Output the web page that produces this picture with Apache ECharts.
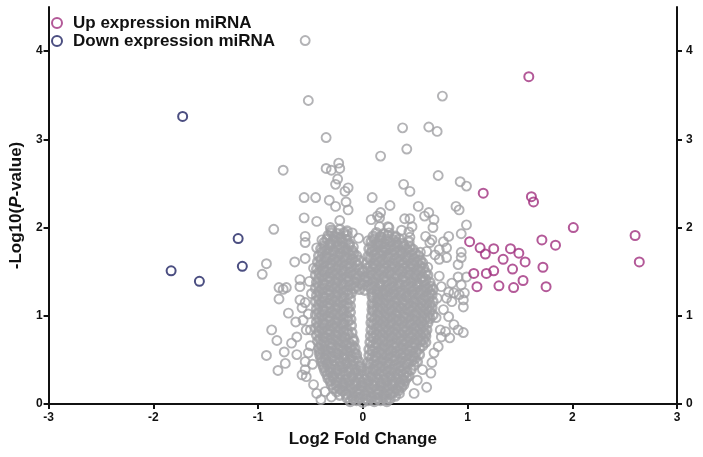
<!DOCTYPE html>
<html>
<head>
<meta charset="utf-8">
<script src="https://cdn.jsdelivr.net/npm/echarts@6/dist/echarts.min.js"></script>
<style>
html,body{margin:0;padding:0;background:#fff;}
#chart{width:703px;height:457px;}
</style>
</head>
<body>
<div id="chart"></div>
<script>
var xTicks = [-3, -2, -1, 0, 1, 2, 3];
var yTicks = [0, 1, 2, 3, 4];

var upPoints = [
  [1.585,3.71],[1.15,2.39],[1.61,2.35],[1.63,2.29],[2.01,2.00],[2.60,1.91],[2.64,1.61],
  [1.02,1.84],[1.12,1.77],[1.17,1.70],[1.25,1.76],[1.41,1.76],[1.49,1.71],[1.34,1.64],
  [1.55,1.61],[1.71,1.86],[1.84,1.80],[1.06,1.48],[1.18,1.48],[1.25,1.51],[1.43,1.53],
  [1.72,1.55],[1.09,1.33],[1.30,1.34],[1.44,1.32],[1.53,1.40],[1.75,1.33]
];

var downPoints = [
  [-1.72,3.26],[-1.19,1.875],[-1.15,1.56],[-1.83,1.51],[-1.56,1.39]
];

var greyOutliers = [
  [-0.55,4.12],[-0.52,3.44],[-0.35,3.02],[-0.76,2.65],
  [-0.35,2.67],[-0.23,2.73],[-0.22,2.67],[-0.30,2.65],[-0.24,2.55],[-0.26,2.49],
  [-0.56,2.34],[-0.45,2.34],[-0.32,2.31],[-0.26,2.24],[-0.17,2.41],[-0.14,2.45],[-0.14,2.20],
  [-0.56,2.11],[-0.44,2.07],[-0.22,2.08],[-0.31,2.00],[-0.85,1.98],[-0.16,2.29],[-0.10,1.94],
  [-0.55,1.90],[-0.55,1.83],[-0.44,1.77],[-0.39,1.86],[0.08,2.09],
  [-0.92,1.59],[-0.96,1.47],[-0.65,1.61],[-0.55,1.65],[-0.80,1.32],[-0.73,1.32],[-0.76,1.30],
  [-0.80,1.19],[-0.60,1.41],[-0.60,1.33],[-0.51,1.39],[-0.60,1.18],[-0.55,1.15],[-0.71,1.03],
  [-0.64,0.93],[-0.57,0.95],[-0.87,0.84],[-0.82,0.72],[-0.75,0.59],[-0.92,0.55],[-0.81,0.38],
  [-0.74,0.46],[-0.68,0.69],[-0.63,0.76],[-0.63,0.56],[-0.55,0.48],[-0.55,0.39],[-0.54,0.31],
  [-0.44,0.12],[-0.36,0.14],[-0.30,0.08],[-0.58,1.09],[-0.54,0.84],[-0.50,0.84],[-0.58,0.33],
  [-0.47,1.54],[-0.49,1.25],[-0.52,1.02],[-0.50,0.66],[-0.48,0.45],[-0.52,0.58],[-0.47,0.22],
  [-0.40,0.05],
  [0.76,3.49],[0.38,3.13],[0.63,3.14],[0.71,3.09],[0.42,2.89],[0.17,2.81],[0.72,2.59],
  [0.39,2.49],[0.45,2.41],[0.93,2.52],[0.99,2.47],[0.09,2.34],[0.26,2.25],[0.17,2.17],
  [0.53,2.24],[0.63,2.17],[0.59,2.13],[0.89,2.24],[0.92,2.20],[0.16,2.11],[0.40,2.10],
  [0.45,2.10],[0.68,2.09],[0.99,2.03],[0.25,2.00],[0.67,2.00],[0.14,2.13],[0.16,2.01],
  [0.24,2.01],[0.44,1.95],[0.47,2.01],
  [0.60,1.90],[0.66,1.86],[0.82,1.90],[0.77,1.84],[0.80,1.77],[0.73,1.75],[0.94,1.72],
  [0.94,1.66],[0.91,1.58],[0.80,1.66],[0.73,1.64],[0.69,1.69],[0.61,1.73],[0.64,1.83],
  [0.55,1.72],[0.45,1.89],[0.94,1.93],[0.99,1.44],[0.91,1.44],[0.94,1.35],[0.87,1.26],
  [0.92,1.24],[0.96,1.18],[0.85,1.16],[0.80,1.20],[0.77,1.07],[0.82,0.99],[0.87,0.90],
  [0.79,0.82],[0.83,0.75],[0.75,0.76],[0.72,0.65],[0.68,0.58],[0.66,0.47],[0.65,0.35],
  [0.61,0.19],[0.52,0.27],[0.57,0.39],[0.75,1.33],[0.82,1.27],[0.85,1.37],[0.97,1.26],
  [0.96,0.81],[0.91,0.84],[0.96,1.10],[0.74,0.84],[0.71,1.20],[0.73,1.45],[0.70,0.98],
  [0.35,0.12],[0.22,0.05],[0.49,0.12],[0.60,0.80],[0.62,1.55],
  [-0.09,1.78],[0.17,1.90],[0.25,1.94],[0.31,1.89],[0.17,1.81],[0.09,1.73],[0.22,1.75],
  [0.37,1.97],[0.05,1.85],[-0.04,1.88]
];

var greyCoreA = [
  [-0.12,0.03],[-0.06,0.04],[0.00,0.02],[0.05,0.04],[0.11,0.03],[0.17,0.04],[0.23,0.03],
  [-0.22,0.10],[-0.16,0.11],[-0.10,0.09],[-0.04,0.11],[0.02,0.10],[0.08,0.09],[0.14,0.11],[0.20,0.10],[0.26,0.11],[0.31,0.09],
  [-0.28,0.18],[-0.22,0.17],[-0.16,0.19],[-0.10,0.18],[-0.04,0.17],[0.02,0.19],[0.08,0.18],[0.14,0.17],[0.20,0.19],[0.26,0.18],[0.32,0.17],[0.37,0.19],
  [-0.31,0.26],[-0.25,0.25],[-0.19,0.24],[-0.13,0.26],[-0.07,0.25],[-0.01,0.24],[0.05,0.26],[0.11,0.25],[0.17,0.24],[0.23,0.26],[0.29,0.25],[0.35,0.24],[0.40,0.26],
  [-0.34,0.33],[-0.28,0.32],[-0.22,0.34],[-0.16,0.33],[-0.10,0.32],[-0.04,0.34],[0.03,0.33],[0.09,0.32],[0.15,0.34],[0.21,0.33],[0.27,0.32],[0.33,0.34],[0.39,0.33],[0.44,0.32],
  [-0.37,0.41],[-0.31,0.40],[-0.25,0.39],[-0.19,0.41],[-0.13,0.40],[-0.07,0.39],[-0.02,0.41],[0.04,0.40],[0.10,0.39],[0.16,0.41],[0.22,0.40],[0.28,0.39],[0.34,0.41],[0.40,0.40],[0.46,0.39],
  [-0.39,0.48],[-0.33,0.47],[-0.27,0.49],[-0.21,0.48],[-0.15,0.47],[-0.09,0.49],[-0.04,0.48],[0.05,0.47],[0.11,0.49],[0.17,0.48],[0.23,0.47],[0.29,0.49],[0.35,0.48],[0.41,0.47],[0.47,0.49],[0.52,0.48],
  [-0.41,0.56],[-0.35,0.55],[-0.29,0.54],[-0.23,0.56],[-0.17,0.55],[-0.11,0.54],[-0.06,0.56],[0.06,0.55],[0.12,0.54],[0.18,0.56],[0.24,0.55],[0.30,0.54],[0.36,0.56],[0.42,0.55],[0.48,0.54],[0.54,0.56],
  [-0.42,0.63],[-0.36,0.62],[-0.30,0.64],[-0.24,0.63],[-0.18,0.62],[-0.12,0.64],[-0.075,0.63],[0.06,0.62],[0.12,0.64],[0.18,0.63],[0.24,0.62],[0.30,0.64],[0.36,0.63],[0.42,0.62],[0.48,0.64],[0.54,0.63],
  [-0.43,0.71],[-0.37,0.70],[-0.31,0.69],[-0.25,0.71],[-0.19,0.70],[-0.13,0.69],[-0.085,0.71],[0.07,0.70],[0.13,0.69],[0.19,0.71],[0.25,0.70],[0.31,0.69],[0.37,0.71],[0.43,0.70],[0.49,0.69],[0.55,0.71],[0.60,0.70],
  [-0.44,0.78],[-0.38,0.77],[-0.32,0.79],[-0.26,0.78],[-0.20,0.77],[-0.14,0.79],[0.075,0.77],[0.13,0.79],[0.19,0.78],[0.25,0.77],[0.31,0.79],[0.37,0.78],[0.43,0.77],[0.49,0.79],[0.55,0.78],[0.60,0.77],
  [-0.45,0.86],[-0.39,0.85],[-0.33,0.84],[-0.27,0.86],[-0.21,0.85],[-0.15,0.84],[0.08,0.84],[0.13,0.86],[0.19,0.85],[0.25,0.84],[0.31,0.86],[0.37,0.85],[0.43,0.84],[0.49,0.86],[0.55,0.85],[0.61,0.84],
  [-0.44,0.93],[-0.38,0.92],[-0.32,0.94],[-0.26,0.93],[-0.20,0.92],[-0.14,0.94],[0.08,0.92],[0.14,0.94],[0.20,0.93],[0.26,0.92],[0.32,0.94],[0.38,0.93],[0.44,0.92],[0.50,0.94],[0.56,0.93],[0.62,0.92],
  [-0.45,1.01],[-0.39,1.00],[-0.33,0.99],[-0.27,1.01],[-0.21,1.00],[-0.15,0.99],[0.085,0.99],[0.14,1.01],[0.20,1.00],[0.26,0.99],[0.32,1.01],[0.38,1.00],[0.44,0.99],[0.50,1.01],[0.56,1.00],[0.62,0.99],[0.67,1.01],
  [-0.44,1.08],[-0.38,1.07],[-0.32,1.09],[-0.26,1.08],[-0.20,1.07],[-0.14,1.09],[0.09,1.07],[0.14,1.09],[0.19,1.08],[0.25,1.07],[0.31,1.09],[0.37,1.08],[0.43,1.07],[0.49,1.09],[0.55,1.08],[0.61,1.07],[0.66,1.09],
  [-0.45,1.16],[-0.39,1.15],[-0.33,1.14],[-0.27,1.16],[-0.21,1.15],[-0.15,1.14],[0.09,1.14],[0.14,1.16],[0.19,1.15],[0.25,1.14],[0.31,1.16],[0.37,1.15],[0.43,1.14],[0.49,1.16],[0.55,1.15],[0.61,1.14],[0.67,1.16],
  [-0.44,1.23],[-0.38,1.22],[-0.32,1.24],[-0.26,1.23],[-0.20,1.22],[-0.14,1.24],[0.09,1.22],[0.14,1.24],[0.19,1.23],[0.24,1.22],[0.30,1.24],[0.36,1.23],[0.42,1.22],[0.48,1.24],[0.54,1.23],[0.60,1.22],[0.66,1.24],
  [-0.45,1.31],[-0.39,1.30],[-0.33,1.29],[-0.27,1.31],[-0.21,1.30],[-0.15,1.29],[-0.09,1.31],[-0.03,1.30],[0.02,1.29],[0.08,1.31],[0.14,1.30],[0.20,1.29],[0.26,1.31],[0.32,1.30],[0.38,1.29],[0.44,1.31],[0.50,1.30],[0.56,1.29],[0.62,1.31],[0.67,1.30],
  [-0.44,1.38],[-0.38,1.37],[-0.32,1.39],[-0.26,1.38],[-0.20,1.37],[-0.14,1.39],[-0.08,1.38],[-0.02,1.37],[0.04,1.39],[0.10,1.38],[0.16,1.37],[0.22,1.39],[0.28,1.38],[0.34,1.37],[0.40,1.39],[0.46,1.38],[0.52,1.37],[0.58,1.39],[0.64,1.38],
  [-0.45,1.46],[-0.39,1.45],[-0.33,1.44],[-0.27,1.46],[-0.21,1.45],[-0.15,1.44],[-0.09,1.46],[-0.03,1.45],[0.03,1.44],[0.09,1.46],[0.15,1.45],[0.21,1.44],[0.27,1.46],[0.33,1.45],[0.39,1.44],[0.45,1.46],[0.51,1.45],[0.57,1.44],[0.62,1.46],
  [-0.44,1.53],[-0.38,1.52],[-0.32,1.54],[-0.26,1.53],[-0.20,1.52],[-0.14,1.54],[-0.08,1.53],[-0.03,1.52],[0.04,1.54],[0.10,1.53],[0.16,1.52],[0.22,1.54],[0.28,1.53],[0.34,1.52],[0.40,1.54],[0.46,1.53],[0.52,1.52],[0.58,1.54],
  [-0.43,1.61],[-0.37,1.60],[-0.31,1.59],[-0.25,1.61],[-0.19,1.60],[-0.13,1.59],[-0.07,1.61],[0.04,1.60],[0.10,1.59],[0.16,1.61],[0.22,1.60],[0.28,1.59],[0.34,1.61],[0.40,1.60],[0.46,1.59],[0.52,1.61],[0.57,1.60],
  [-0.42,1.68],[-0.36,1.67],[-0.30,1.69],[-0.24,1.68],[-0.18,1.67],[-0.12,1.69],[-0.06,1.68],[0.05,1.67],[0.11,1.69],[0.17,1.68],[0.23,1.67],[0.29,1.69],[0.35,1.68],[0.41,1.67],[0.47,1.69],[0.53,1.68],
  [-0.40,1.76],[-0.34,1.75],[-0.28,1.74],[-0.22,1.76],[-0.16,1.75],[-0.10,1.74],[0.06,1.76],[0.12,1.75],[0.18,1.74],[0.24,1.76],[0.30,1.75],[0.36,1.74],[0.42,1.76],[0.48,1.75],
  [-0.37,1.83],[-0.31,1.82],[-0.25,1.84],[-0.19,1.83],[-0.13,1.82],[0.08,1.84],[0.14,1.83],[0.20,1.82],[0.26,1.84],[0.32,1.83],[0.38,1.82],[0.44,1.84],
  [-0.33,1.91],[-0.27,1.90],[-0.21,1.89],[-0.15,1.91],[0.10,1.90],[0.17,1.89],[0.24,1.91],[0.31,1.90],
  [-0.30,1.97],[-0.22,1.98],[-0.15,1.96]
];

var greyCoreB = [
  [-0.15,0.07],[-0.09,0.06],[-0.03,0.07],[0.03,0.06],[0.08,0.07],[0.14,0.06],[0.20,0.07],[0.26,0.06],
  [-0.25,0.14],[-0.19,0.15],[-0.13,0.14],[-0.07,0.13],[-0.01,0.15],[0.05,0.14],[0.11,0.13],[0.17,0.15],[0.23,0.14],[0.29,0.13],[0.34,0.15],
  [-0.30,0.22],[-0.25,0.21],[-0.19,0.22],[-0.13,0.21],[-0.07,0.22],[-0.01,0.21],[0.05,0.22],[0.11,0.21],[0.17,0.22],[0.23,0.21],[0.29,0.22],[0.35,0.21],[0.39,0.22],
  [-0.33,0.29],[-0.28,0.30],[-0.22,0.29],[-0.16,0.28],[-0.10,0.30],[-0.04,0.29],[0.02,0.28],[0.08,0.30],[0.14,0.29],[0.20,0.28],[0.26,0.30],[0.32,0.29],[0.38,0.28],[0.42,0.30],
  [-0.36,0.37],[-0.31,0.36],[-0.25,0.37],[-0.19,0.36],[-0.13,0.37],[-0.07,0.36],[-0.01,0.37],[0.06,0.36],[0.12,0.37],[0.18,0.36],[0.24,0.37],[0.30,0.36],[0.36,0.37],[0.42,0.36],
  [-0.38,0.44],[-0.34,0.45],[-0.28,0.44],[-0.22,0.43],[-0.16,0.45],[-0.10,0.44],[-0.03,0.43],[0.07,0.45],[0.13,0.44],[0.19,0.43],[0.25,0.45],[0.31,0.44],[0.37,0.43],[0.43,0.45],[0.49,0.44],
  [-0.40,0.52],[-0.36,0.51],[-0.30,0.52],[-0.24,0.51],[-0.18,0.52],[-0.12,0.51],[-0.06,0.52],[0.08,0.51],[0.14,0.52],[0.20,0.51],[0.26,0.52],[0.32,0.51],[0.38,0.52],[0.44,0.51],[0.50,0.52],
  [-0.41,0.59],[-0.38,0.60],[-0.32,0.59],[-0.26,0.58],[-0.20,0.60],[-0.14,0.59],[-0.08,0.58],[0.09,0.60],[0.15,0.59],[0.21,0.58],[0.27,0.60],[0.33,0.59],[0.39,0.58],[0.45,0.60],[0.51,0.59],
  [-0.40,0.67],[-0.34,0.66],[-0.28,0.67],[-0.22,0.66],[-0.16,0.67],[-0.10,0.66],[0.09,0.66],[0.15,0.67],[0.21,0.66],[0.27,0.67],[0.33,0.66],[0.39,0.67],[0.45,0.66],[0.51,0.67],[0.57,0.66],
  [-0.41,0.74],[-0.35,0.75],[-0.29,0.74],[-0.23,0.73],[-0.17,0.75],[-0.095,0.74],[0.10,0.75],[0.16,0.74],[0.22,0.73],[0.28,0.75],[0.34,0.74],[0.40,0.73],[0.46,0.75],[0.52,0.74],[0.58,0.73],
  [-0.42,0.82],[-0.36,0.81],[-0.30,0.82],[-0.24,0.81],[-0.18,0.82],[-0.105,0.81],[0.10,0.81],[0.16,0.82],[0.22,0.81],[0.28,0.82],[0.34,0.81],[0.40,0.82],[0.46,0.81],[0.52,0.82],[0.58,0.81],
  [-0.42,0.89],[-0.36,0.90],[-0.30,0.89],[-0.24,0.88],[-0.18,0.90],[-0.11,0.89],[0.10,0.90],[0.16,0.89],[0.22,0.88],[0.28,0.90],[0.34,0.89],[0.40,0.88],[0.46,0.90],[0.52,0.89],[0.58,0.88],
  [-0.42,0.97],[-0.36,0.96],[-0.30,0.97],[-0.24,0.96],[-0.18,0.97],[-0.115,0.96],[0.11,0.96],[0.17,0.97],[0.23,0.96],[0.29,0.97],[0.35,0.96],[0.41,0.97],[0.47,0.96],[0.53,0.97],[0.59,0.96],[0.64,0.97],
  [-0.42,1.04],[-0.36,1.05],[-0.30,1.04],[-0.24,1.03],[-0.18,1.05],[-0.12,1.04],[0.10,1.05],[0.16,1.04],[0.22,1.03],[0.28,1.05],[0.34,1.04],[0.40,1.03],[0.46,1.05],[0.52,1.04],[0.58,1.03],[0.64,1.05],
  [-0.42,1.12],[-0.36,1.11],[-0.30,1.12],[-0.24,1.11],[-0.18,1.12],[-0.12,1.11],[0.10,1.11],[0.16,1.12],[0.22,1.11],[0.28,1.12],[0.34,1.11],[0.40,1.12],[0.46,1.11],[0.52,1.12],[0.58,1.11],[0.64,1.12],
  [-0.42,1.19],[-0.36,1.20],[-0.30,1.19],[-0.24,1.18],[-0.18,1.20],[-0.12,1.19],[0.10,1.20],[0.15,1.19],[0.21,1.18],[0.27,1.20],[0.33,1.19],[0.39,1.18],[0.45,1.20],[0.51,1.19],[0.57,1.18],[0.63,1.20],
  [-0.42,1.27],[-0.36,1.26],[-0.30,1.27],[-0.24,1.26],[-0.18,1.27],[-0.11,1.26],[0.09,1.26],[0.14,1.27],[0.19,1.26],[0.24,1.27],[0.29,1.26],[0.35,1.27],[0.41,1.26],[0.47,1.27],[0.53,1.26],[0.59,1.27],[0.64,1.26],
  [-0.42,1.34],[-0.36,1.35],[-0.30,1.34],[-0.24,1.33],[-0.18,1.35],[-0.12,1.34],[-0.06,1.33],[0.00,1.35],[0.05,1.34],[0.11,1.33],[0.17,1.35],[0.23,1.34],[0.29,1.33],[0.35,1.35],[0.41,1.34],[0.47,1.33],[0.53,1.35],[0.59,1.34],[0.65,1.33],
  [-0.42,1.42],[-0.36,1.41],[-0.30,1.42],[-0.24,1.41],[-0.18,1.42],[-0.12,1.41],[-0.06,1.42],[0.01,1.41],[0.07,1.42],[0.13,1.41],[0.19,1.42],[0.25,1.41],[0.31,1.42],[0.37,1.41],[0.43,1.42],[0.49,1.41],[0.55,1.42],[0.60,1.41],
  [-0.42,1.49],[-0.36,1.50],[-0.30,1.49],[-0.24,1.48],[-0.18,1.50],[-0.12,1.49],[-0.06,1.48],[0.00,1.50],[0.07,1.49],[0.13,1.48],[0.19,1.50],[0.25,1.49],[0.31,1.48],[0.37,1.50],[0.43,1.49],[0.49,1.48],[0.55,1.50],[0.60,1.49],
  [-0.41,1.57],[-0.35,1.56],[-0.29,1.57],[-0.23,1.56],[-0.17,1.57],[-0.11,1.56],[-0.05,1.57],[0.07,1.56],[0.13,1.57],[0.19,1.56],[0.25,1.57],[0.31,1.56],[0.37,1.57],[0.43,1.56],[0.49,1.57],[0.55,1.56],
  [-0.40,1.64],[-0.34,1.65],[-0.28,1.64],[-0.22,1.63],[-0.16,1.65],[-0.10,1.64],[-0.04,1.63],[0.07,1.65],[0.13,1.64],[0.19,1.63],[0.25,1.65],[0.31,1.64],[0.37,1.63],[0.43,1.65],[0.49,1.64],[0.55,1.63],
  [-0.39,1.72],[-0.33,1.71],[-0.27,1.72],[-0.21,1.71],[-0.15,1.72],[-0.09,1.71],[0.08,1.72],[0.14,1.71],[0.20,1.72],[0.26,1.71],[0.32,1.72],[0.38,1.71],[0.44,1.72],[0.50,1.71],
  [-0.37,1.79],[-0.31,1.80],[-0.25,1.79],[-0.19,1.78],[-0.13,1.80],[0.09,1.79],[0.15,1.80],[0.21,1.78],[0.27,1.79],[0.33,1.80],[0.39,1.79],[0.45,1.78],
  [-0.34,1.87],[-0.28,1.86],[-0.22,1.87],[-0.16,1.86],[0.11,1.87],[0.17,1.86],[0.23,1.87],[0.29,1.86],[0.35,1.87],
  [-0.30,1.94],[-0.24,1.93],[-0.18,1.94],[0.13,1.94],[0.20,1.93]
];

var FONT = '"Liberation Sans", Arial, sans-serif';
var GREY = '#a0a0a4', UP = '#a0307e', DOWN = '#1e2262';

var chart = echarts.init(document.getElementById('chart'), null, {renderer: 'canvas'});

var axisLineStyle = {show: true, onZero: false, lineStyle: {color: '#111', width: 2}};
var tickLabel = {color: '#111', fontFamily: FONT, fontWeight: 'bold', fontSize: 12};

chart.setOption({
  animation: false,
  backgroundColor: '#fff',
  grid: {left: 42, right: 26, top: 7, bottom: 53, containLabel: false},
  legend: {
    orient: 'vertical', left: 46, top: 9, itemGap: 0,
    itemWidth: 10, itemHeight: 10,
    textStyle: {fontFamily: FONT, fontWeight: 'bold', fontSize: 17, color: '#111', lineHeight: 18, padding: [0, 0, 0, 6]},
    data: [
      {name: 'Up expression miRNA', icon: 'circle', itemStyle: {color: 'rgba(0,0,0,0)', borderColor: UP, borderWidth: 2}},
      {name: 'Down expression miRNA', icon: 'circle', itemStyle: {color: 'rgba(0,0,0,0)', borderColor: DOWN, borderWidth: 2}}
    ]
  },
  xAxis: {
    type: 'value', min: xTicks[0], max: xTicks[xTicks.length - 1], interval: 1,
    axisLine: axisLineStyle,
    axisTick: {show: true, length: 5, lineStyle: {color: '#111', width: 2}},
    axisLabel: Object.assign({margin: 8}, tickLabel),
    splitLine: {show: false},
    name: 'Log2 Fold Change', nameLocation: 'middle', nameGap: 27,
    nameTextStyle: {fontFamily: FONT, fontWeight: 'bold', fontSize: 17, color: '#111'}
  },
  yAxis: [
    {
      type: 'value', min: 0, max: 4.5, position: 'left',
      axisLine: axisLineStyle,
      axisTick: {show: true, length: 5, customValues: yTicks, lineStyle: {color: '#111', width: 2}},
      axisLabel: Object.assign({margin: 6, customValues: yTicks}, tickLabel),
      splitLine: {show: false},
      name: '-Log10({i|P}-value)', nameLocation: 'middle', nameGap: 13, nameRotate: 90,
      nameTextStyle: {fontFamily: FONT, fontWeight: 'bold', fontSize: 17, color: '#111',
        rich: {i: {fontFamily: FONT, fontWeight: 'bold', fontStyle: 'italic', fontSize: 17, color: '#111'}}}
    },
    {
      type: 'value', min: 0, max: 4.5, position: 'right',
      axisLine: axisLineStyle,
      axisTick: {show: true, length: 5, customValues: yTicks, lineStyle: {color: '#111', width: 2}},
      axisLabel: Object.assign({margin: 9, customValues: yTicks}, tickLabel),
      splitLine: {show: false}
    }
  ],
  series: [
    {
      name: 'Other core', type: 'scatter', symbol: 'circle', symbolSize: 9,
      data: greyCoreA.concat(greyCoreB),
      itemStyle: {color: 'rgba(0,0,0,0)', borderColor: GREY, borderWidth: 2.6},
      emphasis: {disabled: true}, silent: true, large: false, progressive: 0
    },
    {
      name: 'Other', type: 'scatter', symbol: 'circle', symbolSize: 9,
      data: greyOutliers,
      itemStyle: {color: 'rgba(0,0,0,0)', borderColor: GREY, borderWidth: 1.9},
      emphasis: {disabled: true}, silent: true
    },
    {
      name: 'Up expression miRNA', type: 'scatter', symbol: 'circle', symbolSize: 9,
      data: upPoints,
      itemStyle: {color: 'rgba(0,0,0,0)', borderColor: UP, borderWidth: 2},
      emphasis: {disabled: true}
    },
    {
      name: 'Down expression miRNA', type: 'scatter', symbol: 'circle', symbolSize: 9,
      data: downPoints,
      itemStyle: {color: 'rgba(0,0,0,0)', borderColor: DOWN, borderWidth: 2},
      emphasis: {disabled: true}
    }
  ]
});
</script>
</body>
</html>
